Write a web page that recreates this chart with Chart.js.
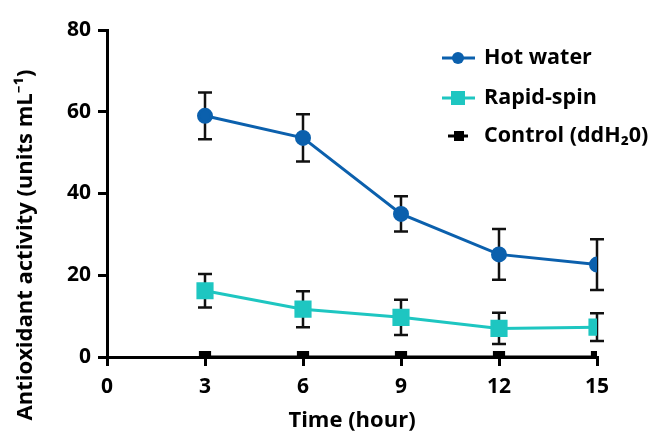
<!DOCTYPE html>
<html>
<head>
<meta charset="utf-8">
<script src="https://cdn.jsdelivr.net/npm/chart.js@4"></script>
<style>
  html,body{margin:0;padding:0;background:#fff;}
  #wrap{width:657px;height:438px;}
</style>
</head>
<body>
<div id="wrap"><canvas id="myChart" width="657" height="438"></canvas></div>
<script>
'use strict';
let hours=[3,6,9,12,15];
let hotWater=[59,53.6,35,25.1,22.6];
let hotWaterErr=[5.7,5.8,4.3,6.2,6.2];
let rapidSpin=[16.2,11.7,9.7,7,7.3];
let rapidSpinErr=[4.1,4.4,4.3,3.8,3.4];
let control=[0,0,0,0,0];
let xTicks=[0,3,6,9,12,15];
let yTicks=[0,20,40,60,80];

let fontName='"Open Sans", "Noto Sans", sans-serif';
let blue='#0b60ad';
let teal='#1ec6c1';

function toPoints(vals){
  let arr=[];
  for(let i=0;i<hours.length;i++){
    arr.push({x:hours[i],y:vals[i]});
  }
  return arr;
}

// error bars, drawn from the scales
let errorBars={
  id:'errorBars',
  beforeDatasetsDraw(chart){
    let ctx=chart.ctx;
    let xs=chart.scales.x;
    let ys=chart.scales.y;
    let sets=[[hotWater,hotWaterErr],[rapidSpin,rapidSpinErr]];
    ctx.save();
    ctx.strokeStyle='#111';
    ctx.lineWidth=2.5;
    for(let s=0;s<sets.length;s++){
      for(let i=0;i<hours.length;i++){
        let px=xs.getPixelForValue(hours[i]);
        let top=ys.getPixelForValue(sets[s][0][i]+sets[s][1][i]);
        let bot=ys.getPixelForValue(sets[s][0][i]-sets[s][1][i]);
        ctx.beginPath();
        ctx.moveTo(px,top);ctx.lineTo(px,bot);
        ctx.moveTo(px-7,top);ctx.lineTo(px+7,top);
        ctx.moveTo(px-7,bot);ctx.lineTo(px+7,bot);
        ctx.stroke();
      }
    }
    ctx.restore();
  }
};

// y title + legend
let extras={
  id:'extras',
  afterDraw(chart){
    let ctx=chart.ctx;
    ctx.save();
    ctx.fillStyle='#000';
    ctx.font='bold 22px '+fontName;
    ctx.textAlign='center';
    ctx.textBaseline='middle';
    ctx.translate(26,245);
    ctx.rotate(-Math.PI/2);
    ctx.fillText('Antioxidant activity (units mL\u207B\u00B9)',0,0);
    ctx.restore();

    let items=[
      {text:'Hot water',color:blue,shape:'circle',y:58},
      {text:'Rapid-spin',color:teal,shape:'square',y:98},
      {text:'Control (ddH\u20820)',color:'#000',shape:'small',y:136}
    ];
    ctx.save();
    ctx.font='bold 21.5px '+fontName;
    ctx.textBaseline='middle';
    ctx.textAlign='left';
    for(let i=0;i<items.length;i++){
      let it=items[i];
      ctx.strokeStyle=it.color;
      ctx.fillStyle=it.color;
      ctx.lineWidth=3;
      ctx.beginPath();
      if(it.shape==='small'){
        ctx.moveTo(448,it.y);ctx.lineTo(468,it.y);
      }else{
        ctx.moveTo(442,it.y);ctx.lineTo(475,it.y);
      }
      ctx.stroke();
      if(it.shape==='circle'){
        ctx.beginPath();ctx.arc(458,it.y,6,0,Math.PI*2);ctx.fill();
      }else if(it.shape==='square'){
        ctx.fillRect(451,it.y-7,14,14);
      }else{
        ctx.fillRect(454,it.y-5,10,10);
      }
      ctx.fillStyle='#000';
      ctx.fillText(it.text,484,it.y);
    }
    ctx.restore();
  }
};

let ctx=document.getElementById('myChart');
let myChart=new Chart(ctx,{
  type:'line',
  data:{
    datasets:[{
      label:'Control (ddH\u20820)',
      data:toPoints(control),
      borderColor:'#000',
      backgroundColor:'#000',
      borderWidth:3,
      pointStyle:'rect',
      pointRadius:6.5,
      order:3
    },{
      label:'Rapid-spin',
      data:toPoints(rapidSpin),
      borderColor:teal,
      backgroundColor:teal,
      borderWidth:3,
      pointStyle:'rect',
      pointRadius:10,
      order:2
    },{
      label:'Hot water',
      data:toPoints(hotWater),
      borderColor:blue,
      backgroundColor:blue,
      borderWidth:3,
      pointStyle:'circle',
      pointRadius:6.5,
      order:1
    }]
  },
  options:{
    responsive:false,
    animation:false,
    layout:{padding:{top:30,right:60,left:0,bottom:0}},
    plugins:{legend:{display:false},tooltip:{enabled:false}},
    scales:{
      x:{
        type:'linear',
        min:0,max:15,
        afterBuildTicks(s){s.ticks=xTicks.map(v=>({value:v}));},
        afterFit(s){s.height=81;},
        grid:{display:true,drawOnChartArea:false,drawTicks:true,tickLength:9,color:'#000',lineWidth:3},
        border:{display:true,color:'#000',width:3},
        ticks:{color:'#000',font:{family:fontName,size:21,weight:'bold'},padding:8},
        title:{display:true,text:'Time (hour)',color:'#000',font:{family:fontName,size:22,weight:'bold'},padding:{top:2}}
      },
      y:{
        min:0,max:80,
        afterBuildTicks(s){s.ticks=yTicks.map(v=>({value:v}));},
        afterFit(s){s.width=107;},
        grid:{display:true,drawOnChartArea:false,drawTicks:true,tickLength:9,color:'#000',lineWidth:3},
        border:{display:true,color:'#000',width:3},
        ticks:{color:'#000',font:{family:fontName,size:21,weight:'bold'},padding:7}
      }
    }
  },
  plugins:[errorBars,extras]
});
</script>
</body>
</html>
